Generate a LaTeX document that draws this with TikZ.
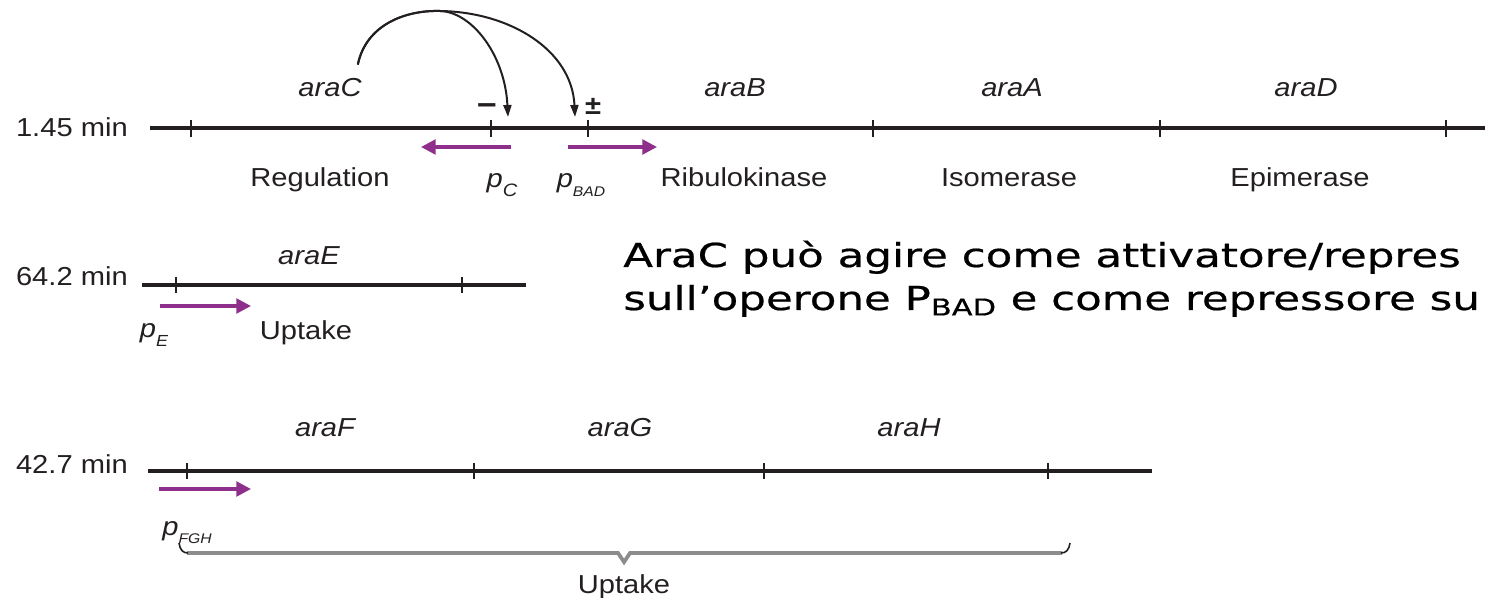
\documentclass[tikz,border=0pt]{standalone}
\usepackage{fontspec}
\usepackage{xcolor}
\usepackage{tikz}
\usetikzlibrary{arrows.meta,positioning}
\setmainfont{Liberation Sans}
\newfontfamily\labf[FakeStretch=1.12]{Liberation Sans}
\newfontfamily\notef[FakeStretch=1.32,FakeBold=0.6]{DejaVu Sans}
\definecolor{inkc}{HTML}{231F20}
\definecolor{promc}{HTML}{8E2F8C}
\definecolor{bracec}{HTML}{8C8C8C}
\tikzset{
  mapl/.style={line width=2.3pt,inkc},
  tk/.style={line width=1.5pt,inkc},
  prom/.style={-{Triangle[length=11pt,width=11pt]},line width=2.5pt,promc},
  reg/.style={-{Triangle[length=9pt,width=6pt]},line width=1.5pt,inkc},
  lab/.style={inner sep=0pt,anchor=base,text=inkc,font=\labf\fontsize{19.5pt}{22pt}\selectfont},
  gene/.style={lab,font=\labf\itshape\fontsize{19.5pt}{22pt}\selectfont},
  note/.style={inner sep=0pt,anchor=base west,text=black,font=\notef\fontsize{24.75pt}{30pt}\selectfont}
}
\newcommand{\prm}[2]{\textit{p}\raisebox{-0.6ex}{\fontsize{#2}{#2}\selectfont\itshape #1}}

\begin{document}
\begin{tikzpicture}[x=0.75pt,y=-0.75pt]
\useasboundingbox (0,0) rectangle (1485,598);
\clip (0,0) rectangle (1485,598);
\draw[mapl] (150,128)--(1485,128);
\foreach \x in {191,491,588,873,1160,1446} \draw[tk] (\x,120)--(\x,137);
\node[lab,anchor=base east] (min1) at (128,137) {1.45 min};
\node[gene] (gC) at (330,97) {araC};
\node[gene] (gB) at (735,97) {araB};
\node[gene] (gA) at (1012,97) {araA};
\node[gene] (gD) at (1306,97) {araD};
\node[lab] (fReg) at (320,187) {Regulation};
\node[lab] (fRib) at (744,187) {Ribulokinase};
\node[lab] (fIso) at (1009,187) {Isomerase};
\node[lab] (fEpi) at (1300,187) {Epimerase};
\node[lab] (pC) at (502,188) {\prm{C}{13.5pt}};
\node[lab] (pBAD) at (581,188) {\prm{BAD}{10.5pt}};
\node[lab,anchor=center] (sgnC) at (487,110) {\bfseries\fontsize{23pt}{23pt}\selectfont −};
\node[lab,anchor=center] (sgnBAD) at (593,106) {\bfseries ±};
\draw[prom] (511,147)--(421,147);
\draw[prom] (568,147)--(657,147);
\coordinate (cfrom) at ([shift={(-4,-14)}]gC.north east);
\coordinate (ctop) at (440,11);
\coordinate (tipC) at (508,117);
\coordinate (tipBAD) at (575,117);
\draw[reg] (cfrom) .. controls (366,25) and (405,10) .. (ctop) .. controls (472,12) and (505,55) .. (tipC);
\draw[reg] (cfrom) .. controls (366,25) and (405,10) .. (ctop) .. controls (510,12) and (572,50) .. (tipBAD);

\draw[mapl] (142,285)--(526,285);
\foreach \x in {176,462} \draw[tk] (\x,277)--(\x,293);
\node[lab,anchor=base east] (min2) at (128,286) {64.2 min};
\node[gene] (gE) at (309,265) {araE};
\node[lab] (fUpE) at (306,340) {Uptake};
\node[lab] (pE) at (154,338) {\prm{E}{12pt}};
\draw[prom] (160,306)--(251,306);

\node[note] (note1) at (623,267) {AraC può agire come attivatore/repres};
\node[note] (note2) at (623,310) {sull’operone P\textsubscript{BAD} e come repressore su};

\draw[mapl] (148,471)--(1152,471);
\foreach \x in {187,474,764,1048} \draw[tk] (\x,463)--(\x,479);
\node[lab,anchor=base east] (min3) at (128,474) {42.7 min};
\node[gene] (gF) at (325,436) {araF};
\node[gene] (gG) at (620,436) {araG};
\node[gene] (gH) at (909,436) {araH};
\node[lab] (pFGH) at (187,535) {\prm{FGH}{10.5pt}};
\draw[prom] (159,489)--(251,489);
\draw[line width=2.8pt,bracec] (187,553)--(618,553)--(624,562)--(630,553)--(1062,553);
\draw[line width=1.2pt,inkc] (179,543) .. controls (180,550) and (183,553) .. (188,553);
\draw[line width=1.2pt,inkc] (1061,553) .. controls (1066,553) and (1069,550) .. (1070,543);
\node[lab] (fUpF) at (624,593) {Uptake};
\end{tikzpicture}
\end{document}
